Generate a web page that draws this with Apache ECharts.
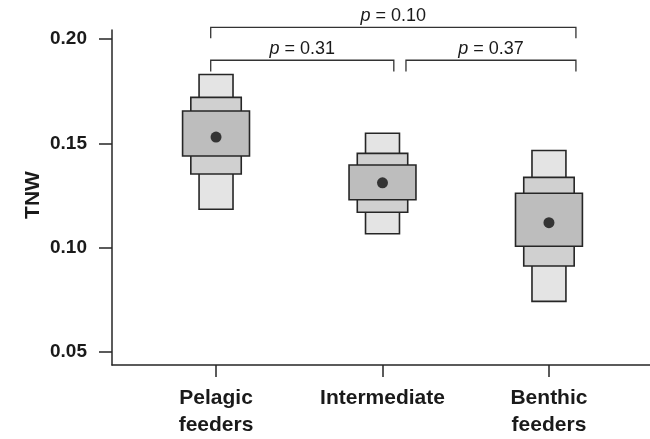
<!DOCTYPE html>
<html><head><meta charset="utf-8">
<script src="https://cdn.jsdelivr.net/npm/echarts@6/dist/echarts.min.js"></script>
<style>html,body{margin:0;padding:0;background:#fff}#c{width:650px;height:439px}</style>
</head><body><div id="c"></div>
<script>
// ---- data ----
const categories = ['Pelagic\nfeeders', 'Intermediate', 'Benthic\nfeeders'];
const catPos = [1, 2, 3];
const outerLow  = [0.1184, 0.1067, 0.0743];
const outerHigh = [0.1830, 0.1548, 0.1466];
const midLow    = [0.1353, 0.1170, 0.0912];
const midHigh   = [0.1720, 0.1452, 0.1337];
const innerLow  = [0.1439, 0.1230, 0.1007];
const innerHigh = [0.1655, 0.1396, 0.1261];
const centers   = [0.1530, 0.1311, 0.1120];
const yTicks = [0.05, 0.10, 0.15, 0.20];
const yTitle = 'TNW';
// brackets: from, to, level, leg bottom, label
const bracketFrom  = [0.968, 0.968, 2.141];
const bracketTo    = [3.162, 2.068, 3.162];
const bracketLevel = [0.2056, 0.1898, 0.1898];
const bracketLeg   = [0.2004, 0.1844, 0.1844];
const bracketP     = ['0.10', '0.31', '0.37'];

// ---- style constants ----
const levelWidths = [0.204, 0.303, 0.402];
const levelColors = ['#e4e4e4', '#d0d0d0', '#bdbdbd'];
const edge = '#262626';
const txt = '#1a1a1a';

function boxSeries(low, high, idx) {
  return {
    type: 'custom', z: 2 + idx,
    data: catPos.map((x, i) => [x, low[i], high[i]]),
    encode: { x: 0, y: [1, 2] },
    renderItem: function (params, api) {
      const x = api.value(0);
      const top = api.coord([x, api.value(2)]);
      const bot = api.coord([x, api.value(1)]);
      const w = api.size([levelWidths[idx], 0])[0];
      return {
        type: 'rect',
        shape: { x: top[0] - w / 2, y: top[1], width: w, height: bot[1] - top[1] },
        style: { fill: levelColors[idx], stroke: edge, lineWidth: 1.6 }
      };
    }
  };
}

const chart = echarts.init(document.getElementById('c'), null, { renderer: 'canvas' });
chart.setOption({
  animation: false,
  backgroundColor: '#fff',
  grid: { left: 112, right: 0, top: 30, bottom: 74 },
  graphic: [{
    type: 'text', x: 33, y: 195, rotation: Math.PI / 2,
    style: {
      text: yTitle, align: 'center', verticalAlign: 'middle',
      fontFamily: 'Liberation Sans', fontWeight: 'bold', fontSize: 21, fill: txt
    }
  }],
  xAxis: {
    type: 'value', min: 0.375, max: 3.607,
    splitLine: { show: false },
    axisLine: { show: true, lineStyle: { color: edge, width: 1.5 } },
    axisTick: { show: true, customValues: catPos, length: 12, lineStyle: { color: edge, width: 1.5 } },
    axisLabel: {
      customValues: catPos, margin: 20,
      formatter: v => categories[Math.round(v) - 1] || '',
      fontFamily: 'Liberation Sans', fontWeight: 'bold', fontSize: 21, color: txt, lineHeight: 27
    }
  },
  yAxis: {
    type: 'value', min: 0.0438, max: 0.2043,
    splitLine: { show: false },
    axisLine: { show: true, lineStyle: { color: edge, width: 1.5 } },
    axisTick: { show: true, customValues: yTicks, length: 13, lineStyle: { color: edge, width: 1.5 } },
    axisLabel: {
      customValues: yTicks, margin: 25,
      formatter: v => v.toFixed(2),
      fontFamily: 'Liberation Sans', fontWeight: 'bold', fontSize: 19, color: txt
    }
  },
  series: [
    boxSeries(outerLow, outerHigh, 0),
    boxSeries(midLow, midHigh, 1),
    boxSeries(innerLow, innerHigh, 2),
    {
      type: 'scatter', z: 10,
      data: catPos.map((x, i) => [x, centers[i]]),
      symbol: 'circle', symbolSize: 11,
      itemStyle: { color: '#111' }
    },
    {
      type: 'custom', clip: false, z: 5,
      data: bracketFrom.map((f, i) => [f, bracketTo[i], bracketLevel[i], bracketLeg[i]]),
      encode: { x: [0, 1], y: [2, 3] },
      renderItem: function (params, api) {
        const i = params.dataIndex;
        const a = api.coord([api.value(0), api.value(2)]);
        const b = api.coord([api.value(1), api.value(2)]);
        const legY = api.coord([api.value(0), api.value(3)])[1];
        return {
          type: 'group',
          children: [
            {
              type: 'polyline',
              shape: { points: [[a[0], legY], a, b, [b[0], legY]] },
              style: { fill: null, stroke: '#333', lineWidth: 1.3 }
            },
            {
              type: 'text',
              x: (a[0] + b[0]) / 2, y: a[1] - 2,
              style: {
                text: '{i|p} = ' + bracketP[i],
                align: 'center', verticalAlign: 'bottom',
                fontFamily: 'Liberation Sans', fontSize: 18, fill: txt,
                rich: { i: { fontStyle: 'italic', fontFamily: 'Liberation Sans', fontSize: 18, fill: txt } }
              }
            }
          ]
        };
      }
    }
  ]
});
</script>
</body></html>
